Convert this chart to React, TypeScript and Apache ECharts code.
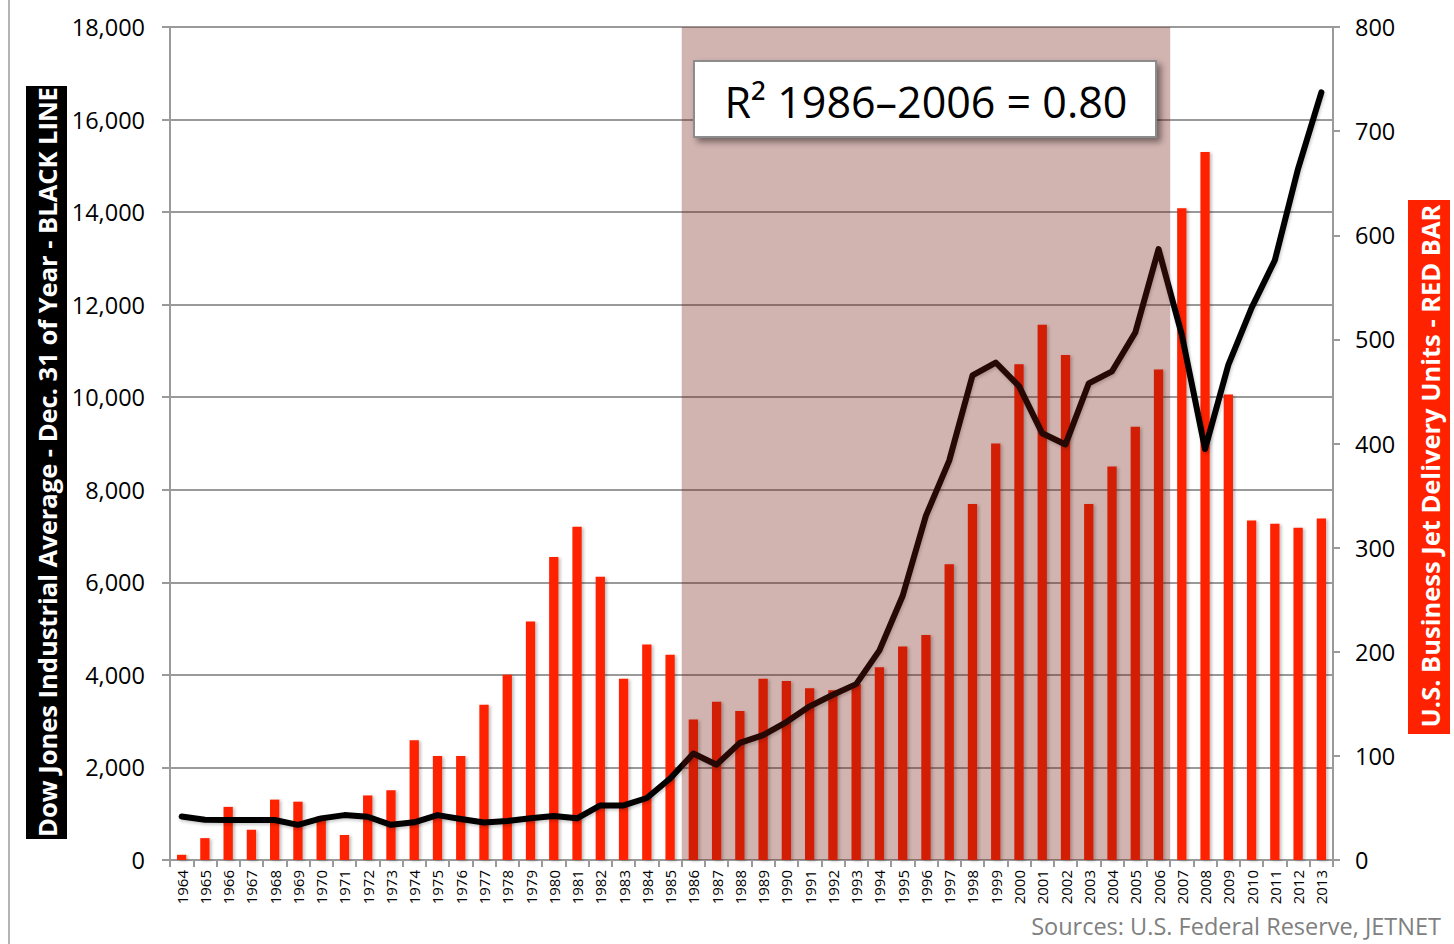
import React, { useEffect, useRef } from "react";
import * as echarts from "echarts";

const years = [
  "1964", "1965", "1966", "1967", "1968", "1969", "1970", "1971", "1972", "1973",
  "1974", "1975", "1976", "1977", "1978", "1979", "1980", "1981", "1982", "1983",
  "1984", "1985", "1986", "1987", "1988", "1989", "1990", "1991", "1992", "1993",
  "1994", "1995", "1996", "1997", "1998", "1999", "2000", "2001", "2002", "2003",
  "2004", "2005", "2006", "2007", "2008", "2009", "2010", "2011", "2012", "2013",
];

// U.S. business jet delivery units (right axis, red bars)
const jetDeliveries = [
  5, 21, 51, 29, 58, 56, 42, 24, 62, 67,
  115, 100, 100, 149, 178, 229, 291, 320, 272, 174,
  207, 197, 135, 152, 143, 174, 172, 165, 163, 169,
  185, 205, 216, 284, 342, 400, 476, 514, 485, 342,
  378, 416, 471, 626, 680, 447, 326, 323, 319, 328,
];

// Dow Jones Industrial Average, Dec. 31 of year (left axis, black line)
const dowClose = [
  938, 870, 865, 865, 865, 760, 900, 970, 935, 760,
  815, 970, 885, 810, 845, 900, 950, 900, 1180, 1180,
  1340, 1760, 2300, 2060, 2530, 2700, 2980, 3320, 3570, 3800,
  4530, 5710, 7440, 8630, 10470, 10750, 10240, 9220, 8980, 10300,
  10560, 11400, 13200, 11350, 8880, 10700, 11930, 12960, 14940, 16590,
];

const leftAxisMax = 18000;
const leftAxisStep = 2000;
const rightAxisMax = 800;
const rightAxisStep = 100;

const shadeStart = "1986";
const shadeEnd = "2006";

const leftTitle = "Dow Jones Industrial Average - Dec. 31 of Year - BLACK LINE";
const rightTitle = "U.S. Business Jet Delivery Units - RED BAR";
const r2Label = "R\u00B2 1986\u20132006 = 0.80";
const sourcesLabel = "Sources: U.S. Federal Reserve, JETNET";

const FONT = '"Open Sans", "Noto Sans", sans-serif';
const GRAY = "#9a9a9a";

export default function App() {
  const ref = useRef<HTMLDivElement>(null);

  useEffect(() => {
    if (!ref.current) return;
    const chart = echarts.init(ref.current, null, { renderer: "svg" });
    chart.setOption({
      animation: false,
      backgroundColor: "#ffffff",
      grid: { left: 170, right: 121, top: 27, bottom: 84 },
      xAxis: {
        type: "category",
        data: years,
        boundaryGap: true,
        axisLine: { show: true, lineStyle: { color: GRAY, width: 2 } },
        axisTick: { show: true, interval: 0, length: 7, lineStyle: { color: GRAY, width: 2 } },
        axisLabel: {
          interval: 0,
          rotate: 90,
          margin: 10,
          color: "#000",
          fontSize: 15,
          fontFamily: FONT,
        },
        splitLine: { show: false },
      },
      yAxis: [
        {
          type: "value",
          min: 0,
          max: leftAxisMax,
          interval: leftAxisStep,
          position: "left",
          axisLine: { show: true, lineStyle: { color: GRAY, width: 2 } },
          axisTick: { show: true, length: 8, inside: false, lineStyle: { color: GRAY, width: 2 } },
          axisLabel: {
            margin: 25,
            color: "#000",
            fontSize: 23.5,
            fontFamily: FONT,
            formatter: (v: number) => v.toLocaleString("en-US"),
          },
          splitLine: { show: true, lineStyle: { color: GRAY, width: 2 } },
        },
        {
          type: "value",
          min: 0,
          max: rightAxisMax,
          interval: rightAxisStep,
          position: "right",
          axisLine: { show: true, lineStyle: { color: GRAY, width: 2 } },
          axisTick: { show: true, length: 7, inside: false, lineStyle: { color: GRAY, width: 2 } },
          axisLabel: {
            margin: 22,
            color: "#000",
            fontSize: 23.5,
            fontFamily: FONT,
          },
          splitLine: { show: false },
        },
      ],
      series: [
        {
          name: "U.S. Business Jet Delivery Units",
          type: "bar",
          yAxisIndex: 1,
          data: jetDeliveries,
          barWidth: "40%",
          z: 2,
          itemStyle: {
            color: "#ff2200",
            shadowColor: "rgba(0,0,0,0.25)",
            shadowBlur: 3,
            shadowOffsetX: 2,
            shadowOffsetY: 1,
          },
          markArea: {
            silent: true,
            z: 10,
            itemStyle: { color: "rgba(115,24,15,0.33)", borderWidth: 0 },
            label: { show: false },
            data: [[{ xAxis: shadeStart }, { xAxis: shadeEnd }]],
          },
        },
        {
          name: "Dow Jones Industrial Average",
          type: "line",
          yAxisIndex: 0,
          data: dowClose,
          symbol: "none",
          z: 5,
          lineStyle: {
            color: "#000",
            width: 6,
            cap: "round",
            join: "round",
            shadowColor: "rgba(0,0,0,0.2)",
            shadowBlur: 3,
            shadowOffsetX: 1,
            shadowOffsetY: 2,
          },
        },
      ],
      graphic: [
        {
          type: "line",
          z: 100,
          shape: { x1: 9, y1: 0, x2: 9, y2: 944 },
          style: { stroke: "#b4b4b4", lineWidth: 2 },
        },
        {
          type: "rect",
          z: 100,
          shape: { x: 26, y: 86, width: 41, height: 753 },
          style: { fill: "#000" },
        },
        {
          type: "text",
          z: 101,
          x: 47,
          y: 462,
          rotation: Math.PI / 2,
          style: {
            text: leftTitle,
            fill: "#fff",
            font: `bold 25.5px ${FONT}`,
            align: "center",
            verticalAlign: "middle",
          },
        },
        {
          type: "rect",
          z: 100,
          shape: { x: 1408, y: 200, width: 42, height: 534 },
          style: { fill: "#ff2200" },
        },
        {
          type: "text",
          z: 101,
          x: 1430,
          y: 466,
          rotation: Math.PI / 2,
          style: {
            text: rightTitle,
            fill: "#fff",
            font: `bold 25.5px ${FONT}`,
            align: "center",
            verticalAlign: "middle",
          },
        },
        {
          type: "rect",
          z: 100,
          shape: { x: 694, y: 61, width: 462, height: 76 },
          style: {
            fill: "#fff",
            stroke: "#8c8c8c",
            lineWidth: 2,
            shadowColor: "rgba(0,0,0,0.45)",
            shadowBlur: 6,
            shadowOffsetX: 4,
            shadowOffsetY: 4,
          },
        },
        {
          type: "text",
          z: 101,
          x: 926,
          y: 101,
          style: {
            text: r2Label,
            fill: "#000",
            font: `43px ${FONT}`,
            align: "center",
            verticalAlign: "middle",
          },
        },
        {
          type: "text",
          z: 101,
          x: 1441,
          y: 926,
          style: {
            text: sourcesLabel,
            fill: "#808080",
            font: `23.5px ${FONT}`,
            align: "right",
            verticalAlign: "middle",
          },
        },
      ],
    });
    return () => chart.dispose();
  }, []);

  return (
    <div
      ref={ref}
      style={{ position: "absolute", left: 0, top: 0, width: 1454, height: 944 }}
    />
  );
}
